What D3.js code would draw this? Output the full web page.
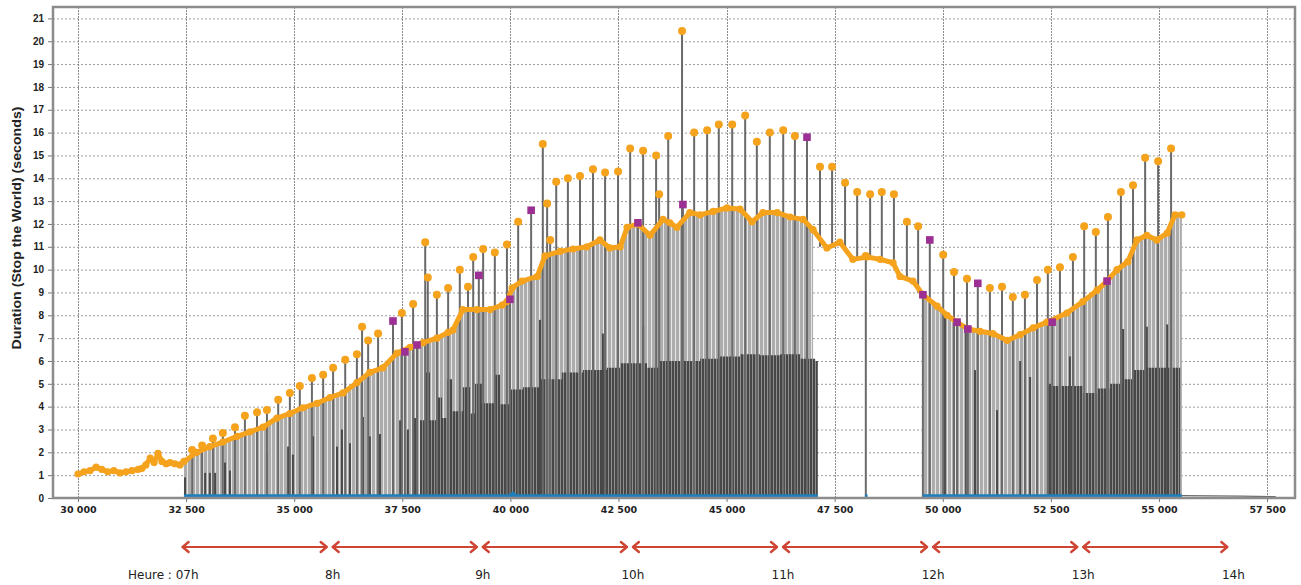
<!DOCTYPE html>
<html><head><meta charset="utf-8">
<script src="https://cdn.jsdelivr.net/npm/d3@7"></script>
<style>body{margin:0;background:#fff;} svg{display:block}</style>
</head><body><svg id="c" width="1301" height="585"></svg>
<script>
// ---------- DATA ----------
const xTicks = [30000,32500,35000,37500,40000,42500,45000,47500,50000,52500,55000,57500];
const yTicks = [0,1,2,3,4,5,6,7,8,9,10,11,12,13,14,15,16,17,18,19,20,21];
const hourLabels = ["Heure : 07h","8h","9h","10h","11h","12h","13h","14h"];
const hours = [7,8,9,10,11,12,13,14];
const yTitle = "Duration (Stop the World)  (seconds)";

// lower (dense) orange series
const lowerX = [30000,30140,30280,30420,30550,30690,30830,30970,31110,31250,31390,31480,31570,31670,31760,31850,31940,32040,32130,32240,32360,32450,32750,33050,33350,33680,33980,34280,34600,34900,35200,35530,35830,36130,36450,36750,37050,37380,37680,37980,38300,38560,38670,38900,39230,39530,39810,39920,40040,40270,40620,40800,41150,41450,41770,42070,42300,42540,42700,42950,43230,43530,43690,43850,44150,44390,44690,45010,45310,45590,45840,46170,46470,46770,47000,47320,47620,47920,48250,48550,48850,49010,49310,49540,49870,50100,50330,50580,50860,51160,51490,51790,52090,52410,52870,53240,53570,53800,54030,54280,54490,54720,54950,55190,55370,55530];
const lowerY = [1.05,1.15,1.2,1.35,1.25,1.15,1.2,1.1,1.15,1.2,1.25,1.3,1.45,1.75,1.55,1.95,1.6,1.5,1.55,1.5,1.45,1.6,2.0,2.25,2.45,2.7,2.9,3.1,3.5,3.7,3.95,4.15,4.4,4.6,5.05,5.5,5.7,6.35,6.6,6.8,7.0,7.25,7.35,8.25,8.25,8.25,8.45,8.6,9.2,9.5,9.7,10.6,10.8,10.9,11.0,11.3,10.95,11.0,11.85,12.0,11.5,12.2,12.05,11.85,12.5,12.4,12.55,12.7,12.65,12.1,12.5,12.5,12.3,12.2,11.75,10.95,11.2,10.45,10.55,10.45,10.3,9.7,9.5,8.9,8.4,8.0,7.7,7.4,7.3,7.2,6.9,7.15,7.45,7.7,8.1,8.6,9.1,9.5,10.0,10.35,11.3,11.5,11.3,11.6,12.4,12.4];
// stretches where the grey fill does not reach the axis
const fillStart = 32450;
const fillGaps = [[47100,49450]];

// upper orange spikes (top value, base of the stem)
const spikeX = [32640,32870,33120,33350,33630,33860,34140,34370,34630,34900,35130,35410,35670,35900,36180,36450,36570,36710,36940,37490,37750,38030,38090,38300,38560,38830,39020,39140,39370,39640,39920,40180,40750,40850,40920,41060,41330,41610,41910,42190,42490,42770,43070,43370,43440,43650,43970,44250,44550,44820,45130,45430,45700,46000,46310,46580,47160,47440,47740,48020,48220,48320,48590,48870,49170,49430,50010,50260,50560,51090,51370,51620,51900,52180,52430,52710,53010,53270,53540,53820,54120,54400,54680,54980,55280];
const spikeY = [2.1,2.3,2.6,2.85,3.1,3.6,3.75,3.85,4.3,4.6,4.9,5.25,5.4,5.7,6.05,6.3,7.5,6.9,7.2,8.1,8.5,11.2,9.65,8.9,9.2,10.0,9.25,10.55,10.9,10.75,11.1,12.1,15.5,12.9,11.3,13.85,14.0,14.1,14.4,14.25,14.3,15.3,15.2,15.0,13.3,15.85,20.45,16.0,16.1,16.35,16.35,16.75,15.6,16.0,16.1,15.85,14.5,14.5,13.8,13.4,10.6,13.3,13.4,13.3,12.1,11.9,10.65,9.9,9.6,9.2,9.25,8.8,8.9,9.55,10.0,10.1,10.55,11.9,11.65,12.3,13.4,13.7,14.9,14.75,15.3];
const spikeBase = [0,0,0,0,0,0,0,0,0,0,0,0,0,0,0,0,0,0,0,0,0,0,0,0,0,0,0,0,0,0,0,0,0,0,0,0,0,0,0,0,0,0,0,0,0,0,0,0,0,0,0,0,0,0,0,0,11.0,11.0,10.8,10.4,0,10.5,10.4,10.2,9.5,9.0,0,0,0,0,0,0,0,0,0,0,0,0,0,0,0,0,0,0,0];

// purple squares
const purpleX = [37285,37560,37840,39270,39990,40480,42950,43990,46860,49540,49700,50330,50580,50810,52530,53800];
const purpleY = [7.75,6.4,6.7,9.75,8.7,12.6,12.05,12.85,15.8,8.9,11.3,7.7,7.4,9.4,7.7,9.5];

// dark grey bars (single)
const darkX = [32475,32940,33050,33170,33400,33515,34370,34860,34970,35435,35990,36105,36290,36590,36750,36985,37450,37630,37795,40685,42140,43070,50050,50540,50745,51255,51790,52020,52180,52480,52940,54170,54720,55190];
const darkH = [0.9,1.1,1.1,1.1,1.55,1.2,2.0,2.25,1.9,2.7,2.25,3.0,2.4,3.55,2.7,2.8,3.4,3.0,3.5,7.8,7.2,7.5,7.9,7.4,5.6,3.85,6.0,5.3,5.0,5.0,6.2,7.4,7.5,7.6];
// dense dark grey band
const bandX = [37910,38025,38140,38300,38420,38530,38650,38900,39070,39180,39340,39640,39760,39990,40290,40680,40850,41190,41680,42230,42540,43160,43460,43920,44390,44850,45310,45770,46240,46700,47050,47110,52410,52940,53240,53570,53870,54170,54400,54720,55330,55490];
const bandH = [3.4,5.5,3.4,4.4,3.5,5.2,3.8,4.85,3.7,5.0,4.15,5.4,4.1,4.75,4.85,5.2,5.2,5.5,5.6,5.7,5.9,5.7,6.0,6.0,6.1,6.2,6.3,6.25,6.3,6.1,6.0,0,4.9,4.9,4.6,4.8,5.0,5.2,5.6,5.7,5.7,0];

// blue near-zero series and grey tail
const blueX = [32450,40000,40060,40120,47110,47200,48200,48260,48300,49540,55530];
const blueY = [0.09,0.09,0.2,0.09,0.09,null,0.09,0.09,null,0.09,0.09];
const tailX = [55530,56900,57700];
const tailY = [0.1,0.08,0.06];

// hour mapping (x-axis units of the first and last hour marks)
const hourAnchors = [32350,56650];

// ---------- CHART ----------
const svg = d3.select('#c');
const P = {left:53, top:7, right:1295, bottom:498};
const x = d3.scaleLinear().domain([29422,58146]).range([P.left,P.right]);
const y = d3.scaleLinear().domain([0,21.5]).range([P.bottom,P.top]);
const loc = d3.formatLocale({decimal:",", thousands:" ", grouping:[3], currency:["",""]});
const fmt = loc.format(",");

const defs = svg.append('defs');
const pl = defs.append('pattern').attr('id','lightStripes').attr('patternUnits','userSpaceOnUse').attr('width',4).attr('height',10);
pl.append('rect').attr('width',4).attr('height',10).attr('fill','#acacac');
pl.append('rect').attr('x',3).attr('width',1).attr('height',10).attr('fill','#e6e6e6');
const pd = defs.append('pattern').attr('id','darkStripes').attr('patternUnits','userSpaceOnUse').attr('width',3).attr('height',10);
pd.append('rect').attr('width',3).attr('height',10).attr('fill','#474747');
pd.append('rect').attr('x',2).attr('width',1).attr('height',10).attr('fill','#8e8e8e');

// grid
const g = svg.append('g');
g.selectAll('.hg').data(yTicks.filter(v=>v>0)).join('line')
  .attr('x1',P.left).attr('x2',P.right).attr('y1',d=>y(d)+0.5).attr('y2',d=>y(d)+0.5)
  .attr('stroke','#9c9c9c').attr('stroke-width',1).attr('stroke-dasharray','2,2');
g.selectAll('.vg').data(xTicks).join('line')
  .attr('x1',d=>Math.round(x(d))+0.5).attr('x2',d=>Math.round(x(d))+0.5).attr('y1',P.top).attr('y2',P.bottom)
  .attr('stroke','#8a8a8a').attr('stroke-width',1).attr('stroke-dasharray','2,1');

const lower = lowerX.map((v,i)=>({x:v,y:lowerY[i]}));
const inGap = v => fillGaps.some(r => v>=r[0] && v<=r[1]);

// light grey fill
svg.append('path')
  .datum(lower.filter(d=>d.x>=fillStart))
  .attr('d', d3.area().defined(d=>!inGap(d.x)).x(d=>x(d.x)).y0(y(0)).y1(d=>y(d.y)))
  .attr('fill','url(#lightStripes)');

// dark band
const band = bandX.map((v,i)=>({x:v,h:bandH[i]}));
svg.append('path').datum(band)
  .attr('d', d3.area().curve(d3.curveStepAfter).x(d=>x(d.x)).y0(y(0)).y1(d=>y(d.h)))
  .attr('fill','url(#darkStripes)');
svg.selectAll('.dk').data(darkX.map((v,i)=>({x:v,h:darkH[i]}))).join('line')
  .attr('x1',d=>x(d.x)).attr('x2',d=>x(d.x)).attr('y1',y(0)).attr('y2',d=>y(d.h))
  .attr('stroke','#4a4a4a').attr('stroke-width',2);

// spike stems
const spikes = spikeX.map((v,i)=>({x:v,y:spikeY[i],b:spikeBase[i]}));
svg.selectAll('.st').data(spikes).join('line')
  .attr('x1',d=>x(d.x)).attr('x2',d=>x(d.x)).attr('y1',d=>y(d.b)).attr('y2',d=>y(d.y))
  .attr('stroke','#6a6a6a').attr('stroke-width',2);
const purples = purpleX.map((v,i)=>({x:v,y:purpleY[i]}));
svg.selectAll('.pst').data(purples).join('line')
  .attr('x1',d=>x(d.x)).attr('x2',d=>x(d.x)).attr('y1',y(0)).attr('y2',d=>y(d.y))
  .attr('stroke','#6a6a6a').attr('stroke-width',2);

// blue + tail
const blue = blueX.map((v,i)=>({x:v,y:blueY[i]}));
svg.append('path').datum(blue)
  .attr('d', d3.line().defined(d=>d.y!=null).x(d=>x(d.x)).y(d=>y(d.y)))
  .attr('fill','none').attr('stroke','#1d80bd').attr('stroke-width',3.5);
svg.append('path').datum(tailX.map((v,i)=>({x:v,y:tailY[i]})))
  .attr('d', d3.line().x(d=>x(d.x)).y(d=>y(d.y)))
  .attr('fill','none').attr('stroke','#6b6b6b').attr('stroke-width',1.2);

// lower orange band
const orange = '#f5a21c';
svg.append('path').datum(lower)
  .attr('d', d3.line().x(d=>x(d.x)).y(d=>y(d.y)))
  .attr('fill','none').attr('stroke',orange).attr('stroke-width',5).attr('stroke-linejoin','round');
svg.selectAll('.lo').data(lower).join('circle')
  .attr('cx',d=>x(d.x)).attr('cy',d=>y(d.y)).attr('r',3.6).attr('fill',orange);

// spike markers
svg.selectAll('.sp').data(spikes).join('circle')
  .attr('cx',d=>x(d.x)).attr('cy',d=>y(d.y)).attr('r',4).attr('fill',orange);
svg.selectAll('.pu').data(purples).join('rect')
  .attr('x',d=>x(d.x)-3.8).attr('y',d=>y(d.y)-3.8).attr('width',7.6).attr('height',7.6)
  .attr('fill','#9c2f93');

// frame
svg.append('rect').attr('x',P.left).attr('y',P.top).attr('width',P.right-P.left).attr('height',P.bottom-P.top)
  .attr('fill','none').attr('stroke','#8c8c8c').attr('stroke-width',2.5);

// axes
const ya = svg.append('g').attr('transform',`translate(${P.left-1},0)`)
  .call(d3.axisLeft(y).tickValues(yTicks).tickSize(4).tickPadding(4));
ya.select('.domain').remove();
ya.selectAll('line').attr('stroke','#777');
ya.selectAll('text').attr('font-family','Liberation Sans, Arial, sans-serif').attr('font-weight','bold')
  .attr('font-size',10).attr('fill','#222');
const xa = svg.append('g').attr('transform',`translate(0,${P.bottom+1})`)
  .call(d3.axisBottom(x).tickValues(xTicks).tickFormat(fmt).tickSize(3).tickPadding(4));
xa.select('.domain').remove();
xa.selectAll('line').attr('stroke','#777');
xa.selectAll('text').attr('font-family','DejaVu Sans, Verdana, sans-serif').attr('font-weight','bold')
  .attr('font-size',9.5).attr('fill','#222');

svg.append('text').attr('transform','translate(21,228) rotate(-90)')
  .attr('text-anchor','middle').attr('font-family','Liberation Sans, Arial, sans-serif')
  .attr('font-weight','bold').attr('font-size',12.5).attr('fill','#222')
  .attr('textLength',243).attr('lengthAdjust','spacingAndGlyphs').text(yTitle);

// hour arrows
const hx = d3.scaleLinear().domain([hours[0],hours[hours.length-1]]).range(hourAnchors.map(x));
const red = '#cf4534', ay = 547;
const segs = hours.slice(0,-1).map(h=>({a:hx(h)+3,b:hx(h+1)-3}));
const ag = svg.append('g').attr('stroke',red).attr('fill','none').attr('stroke-linecap','round').attr('stroke-linejoin','round');
ag.selectAll('.al').data(segs).join('line').attr('x1',d=>d.a).attr('x2',d=>d.b).attr('y1',ay).attr('y2',ay).attr('stroke-width',2);
ag.selectAll('.ah1').data(segs).join('path').attr('stroke-width',2.4)
  .attr('d',d=>`M${d.a+6},${ay-5}L${d.a},${ay}L${d.a+6},${ay+5}`);
ag.selectAll('.ah2').data(segs).join('path').attr('stroke-width',2.4)
  .attr('d',d=>`M${d.b-6},${ay-5}L${d.b},${ay}L${d.b-6},${ay+5}`);

svg.selectAll('.hl').data(hours).join('text')
  .attr('x',(d,i)=> i===0 ? hx(d)+19 : hx(d)+3)
  .attr('y',579)
  .attr('text-anchor',(d,i)=> i===0 ? 'end':'middle')
  .attr('font-family','DejaVu Sans, Verdana, sans-serif').attr('font-size',12).attr('fill','#222')
  .text((d,i)=>hourLabels[i]);
</script>
</body></html>
